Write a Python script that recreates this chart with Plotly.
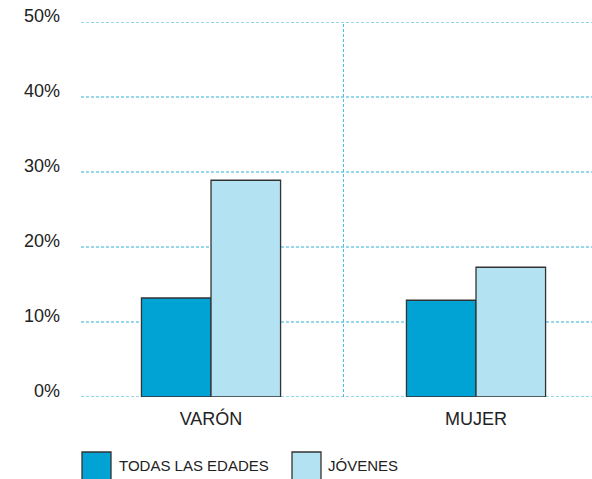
import plotly.graph_objects as go

categorias = ["VARÓN", "MUJER"]
todas_las_edades = [13.2, 12.9]
jovenes = [28.9, 17.3]
series = ["TODAS LAS EDADES", "JÓVENES"]
yticks = [0, 10, 20, 30, 40, 50]
ytick_labels = ["0%", "10%", "20%", "30%", "40%", "50%"]

c_dark = "#00a3d3"
c_light = "#b3e3f2"
grid_c = "#2fb0d8"
vline_c = "#45c0e8"
outline = "#333333"

fig = go.Figure()
fig.add_trace(go.Bar(x=categorias, y=todas_las_edades, name=series[0],
                     marker=dict(color=c_dark, line=dict(color=outline, width=1.3))))
fig.add_trace(go.Bar(x=categorias, y=jovenes, name=series[1],
                     marker=dict(color=c_light, line=dict(color=outline, width=1.3))))

fig.update_layout(
    width=592, height=479,
    margin=dict(l=81, r=0, t=22, b=82, autoexpand=False),
    paper_bgcolor="white", plot_bgcolor="white",
    barmode="group", bargap=0.475, bargroupgap=0,
    showlegend=False,
    font=dict(family="Liberation Sans, Arial, sans-serif", color="#222222"),
)
fig.update_xaxes(type="category", range=[-0.4906, 1.4377], showgrid=False,
                 showline=False, ticks="", tickfont=dict(size=18),
                 ticklabelstandoff=9, automargin=False)
fig.update_yaxes(range=[0, 50], tickvals=yticks, ticktext=ytick_labels,
                 showgrid=False, zeroline=False, showline=False, ticks="",
                 ticklabelposition="outside top", ticklabeloverflow="allow",
                 ticklabelstandoff=20, ticklabelshift=6, automargin=False,
                 tickfont=dict(size=18))

# horizontal grid lines at the tick values
for v in yticks:
    fig.add_shape(type="line", xref="paper", yref="y", x0=0, x1=1, y0=v, y1=v,
                  line=dict(color=grid_c, width=1, dash="3px,2px"), layer="below")

# vertical separator between categories
fig.add_shape(type="line", xref="x", yref="y", x0=0.5, x1=0.5, y0=0, y1=50,
              line=dict(color=vline_c, width=1, dash="3px,2px"), layer="below")

# manual legend (pixel positions converted to paper coords of the plot area)
ph = 375.0
pw = 511.0
leg = [(82, 111, c_dark, series[0], 117), (292, 321, c_light, series[1], 326)]
for x0, x1, col, label, tx in leg:
    fig.add_shape(type="rect", xref="paper", yref="paper",
                  x0=(x0 - 81) / pw, x1=(x1 - 81) / pw,
                  y0=(397 - 482) / ph, y1=(397 - 452) / ph,
                  fillcolor=col, line=dict(color=outline, width=1.3))
    fig.add_annotation(xref="paper", yref="paper", x=(tx - 81) / pw,
                       y=(397 - 465) / ph, text=label, showarrow=False,
                       xanchor="left", yanchor="middle",
                       font=dict(size=15, color="#222222"))

fig.write_html("out.html", config={"displayModeBar": False},
               post_script="document.body.style.margin='0';document.body.style.overflow='hidden';")
